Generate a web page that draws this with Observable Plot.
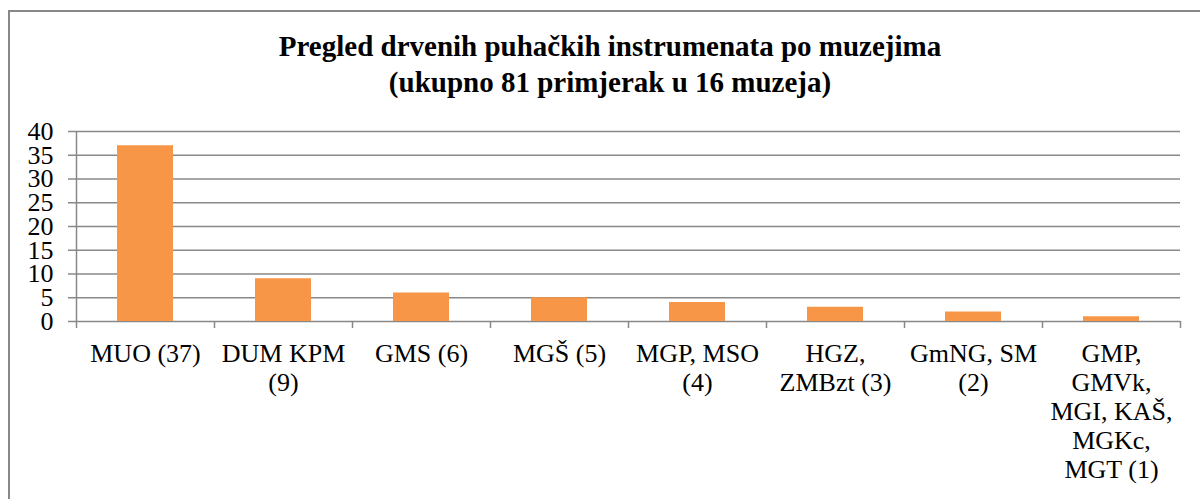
<!DOCTYPE html>
<html>
<head>
<meta charset="utf-8">
<script src="https://cdn.jsdelivr.net/npm/d3@7"></script>
<script src="https://cdn.jsdelivr.net/npm/@observablehq/plot@0.6"></script>
<style>
  html, body { margin: 0; padding: 0; background: #fff; overflow: hidden; }
  body { width: 1200px; height: 499px; position: relative; font-family: "Liberation Serif", "Times New Roman", serif; }
  #frame { position: absolute; left: 8px; top: 10px; width: 1300px; height: 600px; border: 2px solid #888; box-sizing: border-box; pointer-events: none; z-index: 2; }
  #title { position: absolute; left: 20px; top: 0; width: 1180px; height: 110px; box-sizing: border-box; padding-top: 28px; text-align: center; font-weight: bold; font-size: 29px; line-height: 36px; color: #000; }
  #chart { position: absolute; left: 0; top: 110px; }
  #chart svg { background: transparent !important; overflow: visible !important; }
</style>
</head>
<body>
<div id="frame"></div>
<div id="title">Pregled drvenih puhačkih instrumenata po muzejima<br>(ukupno 81 primjerak u 16 muzeja)</div>
<div id="chart"></div>
<script>
const categories = ["MUO (37)", "DUM KPM\n(9)", "GMS (6)", "MGŠ (5)", "MGP, MSO\n(4)", "HGZ,\nZMBzt (3)", "GmNG, SM\n(2)", "GMP,\nGMVk,\nMGI, KAŠ,\nMGKc,\nMGT (1)"];
const values = [37, 9, 6, 5, 4, 3, 2, 1];
const yTicks = [0, 5, 10, 15, 20, 25, 30, 35, 40];

const data = categories.map((c, i) => ({category: c, value: values[i]}));

const W = 1200, H = 389;
const mL = 76, mR = 20, mT = 21, mB = 178;
const step = (W - mL - mR) / categories.length;
const gray = "#888";
const serif = "'Liberation Serif', 'Times New Roman', Times, serif";

const plot = Plot.plot({
  width: W,
  height: H,
  marginLeft: mL,
  marginRight: mR,
  marginTop: mT,
  marginBottom: mB,
  x: {domain: categories, paddingInner: 0.594, paddingOuter: 0.297, label: null},
  y: {domain: [0, 40], label: null},
  marks: [
    Plot.ruleY(yTicks, {y: d => d, stroke: gray, strokeWidth: 1.5}),
    Plot.barY(data, {x: "category", y: "value", fill: "#F79646"}),
    Plot.ruleX([categories[0]], {x: d => d, dx: -step / 2, y1: 40, y2: 0, insetBottom: -7, stroke: gray, strokeWidth: 1.5}),
    Plot.ruleX(categories.slice(1), {x: d => d, dx: -step / 2, y1: 0, y2: 0, insetBottom: -7, stroke: gray, strokeWidth: 1.5}),
    Plot.ruleX([categories[categories.length - 1]], {x: d => d, dx: step / 2, y1: 0, y2: 0, insetBottom: -7, stroke: gray, strokeWidth: 1.5}),
    Plot.axisY(yTicks, {tickSize: 8, tickPadding: 15, stroke: gray, strokeWidth: 1.5, fontSize: 26, fill: "#000", label: null}),
    Plot.axisX({tickSize: 0, tickPadding: 20, fontSize: 26, lineHeight: 1.115, fill: "#000", label: null})
  ]
});
plot.setAttribute("font-family", serif);
plot.style.fontFamily = serif;
plot.querySelectorAll("g, text, tspan").forEach(el => {
  if (el.hasAttribute("font-family")) el.setAttribute("font-family", serif);
  el.style.fontFamily = serif;
});
document.getElementById("chart").appendChild(plot);
</script>
</body>
</html>
